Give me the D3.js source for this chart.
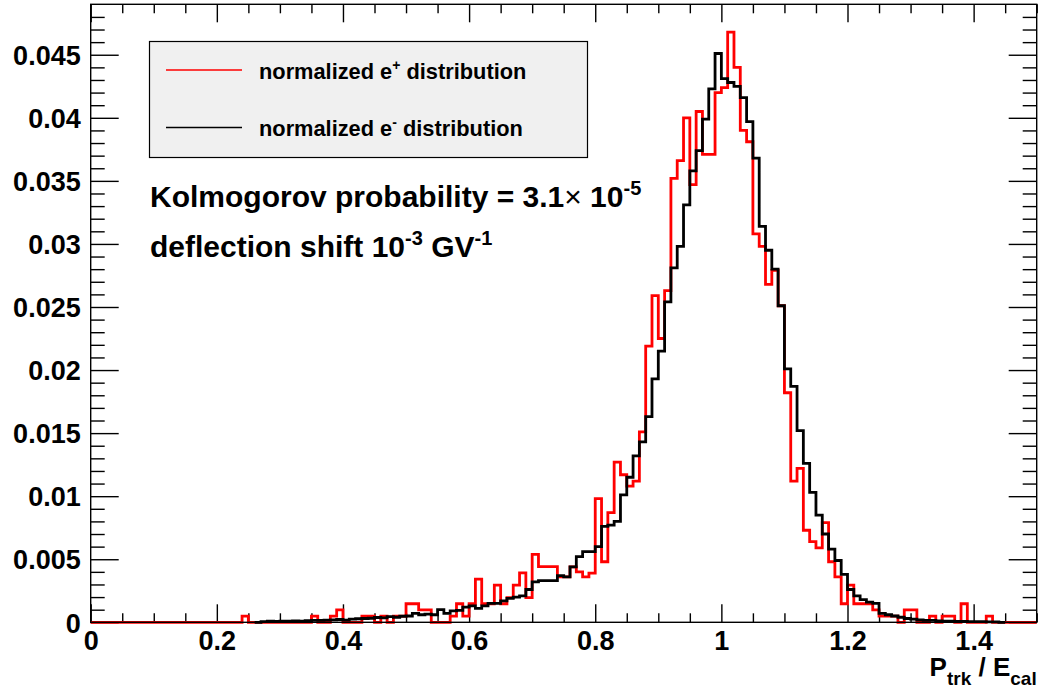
<!DOCTYPE html>
<html>

<head>
  <meta charset="utf-8">
  <script src="https://d3js.org/d3.v7.min.js"></script>
  <style>
    body { margin: 0; background: #fff; }
    svg text { font-family: "Liberation Sans", Arial, Helvetica, sans-serif; font-weight: bold; fill: #000; }
  </style>
</head>

<body>
  <div id="my_dataviz"></div>
  <script>
    // binning of P_trk / E_cal
    var binStart = 0, binWidth = 0.01;

    // normalized e+ distribution (150 bins)
    var positron = [
      0, 0, 0, 0, 0, 0, 0, 0, 0, 0,
      0, 0, 0, 0, 0, 0, 0, 0, 0, 0,
      0, 0, 0, 0, 0.00049, 0, 0, 0, 0, 0,
      0, 0, 0, 0, 0, 0.00049, 0, 0, 0.00049, 0.00098,
      0, 0, 0, 0.00049, 0.00049, 0, 0.00049, 0, 0.00049, 0.00049,
      0.00147, 0.00147, 0.00098, 0.00098, 0, 0, 0, 0.00049, 0.00147, 0.00049,
      0.00147, 0.00343, 0.00147, 0.00147, 0.00294, 0.00147, 0.00196, 0.00294, 0.00392, 0.00196,
      0.00539, 0.00441, 0.00441, 0.00441, 0.0036, 0.0036, 0.0044, 0.0040, 0.0036, 0.0039,
      0.0098, 0.0048, 0.0087, 0.0127, 0.0117, 0.0108, 0.0112, 0.0151, 0.0219, 0.0259,
      0.0225, 0.0263, 0.0352, 0.0366, 0.0400, 0.0347, 0.0405, 0.0371, 0.0371, 0.0420,
      0.0424, 0.0468, 0.0440, 0.0390, 0.0381, 0.0308, 0.0298, 0.0268, 0.0279, 0.0251,
      0.0182, 0.0112, 0.0122, 0.0073, 0.0064, 0.0059, 0.0079, 0.0048, 0.0036, 0.00147,
      0.00294, 0.00147, 0.00147, 0.00147, 0.00098, 0.00049, 0.00049, 0.00049, 0, 0.00098,
      0.00098, 0, 0, 0.00049, 0, 0.00049, 0.00049, 0, 0.00147, 0,
      0, 0, 0.00049, 0, 0, 0, 0, 0, 0, 0
    ];

    // normalized e- distribution (150 bins)
    var electron = [
      0, 0, 0, 0, 0, 0, 0, 0, 0, 0,
      0, 0, 0, 0, 0, 0, 0, 0, 0, 0,
      0, 0, 0, 0, 0, 0, 0, 0.00005, 0.0001, 0.00008,
      0.0001, 0.0001, 0.00012, 0.0001, 0.00014, 0.00015, 0.00016, 0.00018, 0.0002, 0.00022,
      0.00018, 0.00025, 0.00028, 0.0003, 0.00032, 0.00038, 0.00035, 0.00045, 0.0004, 0.00048,
      0.0005, 0.0007, 0.0006, 0.00065, 0.0006, 0.0010, 0.0007, 0.0009, 0.00095, 0.0012,
      0.0013, 0.0011, 0.0013, 0.0015, 0.0015, 0.0017, 0.0019, 0.0020, 0.0021, 0.0026,
      0.0032, 0.0033, 0.0033, 0.0033, 0.0037, 0.0036, 0.0044, 0.0052, 0.0056, 0.0056,
      0.0060, 0.0076, 0.0077, 0.0080, 0.0101, 0.0115, 0.0132, 0.0143, 0.0163, 0.0193,
      0.0215, 0.0254, 0.0281, 0.0298, 0.0331, 0.0358, 0.0374, 0.0399, 0.0423, 0.0451,
      0.0431, 0.0428, 0.0425, 0.0416, 0.0397, 0.0368, 0.0314, 0.0295, 0.0280, 0.0251,
      0.0201, 0.0187, 0.0152, 0.0126, 0.0103, 0.0085, 0.0070, 0.0058, 0.0049, 0.0038,
      0.0026, 0.0021, 0.0018, 0.0016, 0.0015, 0.0007, 0.0006, 0.0005, 0.0004, 0.0003,
      0.00025, 0.0002, 0.00015, 0.00015, 0.00012, 0.0001, 0.0001, 0.00008, 0.00008, 0.00006,
      0.00005, 0.00005, 0.00004, 0.00003, 0, 0, 0, 0, 0, 0
    ];

    var xTickLabels = ["0", "0.2", "0.4", "0.6", "0.8", "1", "1.2", "1.4"];
    var yTickLabels = ["0", "0.005", "0.01", "0.015", "0.02", "0.025", "0.03", "0.035", "0.04", "0.045"];
    var xRange = [0, 1.5];
    var yMax = 0.049;

    var margin = { top: 4.3, right: 4.3, bottom: 67.7, left: 90.7 },
      width = 1041 - margin.left - margin.right,
      height = 690 - margin.top - margin.bottom;

    var root = d3.select("#my_dataviz")
      .append("svg")
      .attr("width", 1041)
      .attr("height", 690);

    var svg = root.append("g")
      .attr("transform", "translate(" + margin.left + "," + margin.top + ")");

    var x = d3.scaleLinear().domain(xRange).range([0, width]);
    var y = d3.scaleLinear().domain([0, yMax]).range([height, 0]);

    var xMajor = xTickLabels.map(Number);
    var xMinor = d3.range(0, 31).map(function (i) { return +(i * 0.05).toFixed(2); })
      .filter(function (v) { return xMajor.indexOf(v) < 0; });
    var yMajor = yTickLabels.map(Number);
    var yMinor = d3.range(0, 49).map(function (i) { return +(i * 0.001).toFixed(3); })
      .filter(function (v) { return v <= yMax && yMajor.indexOf(v) < 0; });

    function clean(g) {
      g.select(".domain").remove();
      g.attr("font-size", null).attr("font-family", null);
      g.selectAll(".tick line").attr("stroke", "#000").attr("stroke-width", 1.4);
    }

    // bottom axis
    svg.append("g")
      .attr("transform", "translate(0," + height + ")")
      .call(d3.axisBottom(x).tickValues(xMinor).tickSize(-9).tickFormat(""))
      .call(clean);
    svg.append("g")
      .attr("transform", "translate(0," + height + ")")
      .call(d3.axisBottom(x).tickValues(xMajor).tickSize(-18)
        .tickFormat(function (d, i) { return xTickLabels[i]; }))
      .call(clean)
      .selectAll("text")
      .attr("y", 27.5).attr("dy", null)
      .style("font-size", "27px");

    // top axis
    svg.append("g")
      .call(d3.axisTop(x).tickValues(xMinor).tickSize(-9).tickFormat(""))
      .call(clean);
    svg.append("g")
      .call(d3.axisTop(x).tickValues(xMajor).tickSize(-18).tickFormat(""))
      .call(clean);

    // left axis
    svg.append("g")
      .call(d3.axisLeft(y).tickValues(yMinor).tickSize(-14).tickFormat(""))
      .call(clean);
    svg.append("g")
      .call(d3.axisLeft(y).tickValues(yMajor).tickSize(-28).tickPadding(10)
        .tickFormat(function (d, i) { return yTickLabels[i]; }))
      .call(clean)
      .selectAll("text")
      .attr("dy", "0.36em")
      .style("font-size", "27px");

    // right axis
    svg.append("g")
      .attr("transform", "translate(" + width + ",0)")
      .call(d3.axisRight(y).tickValues(yMinor).tickSize(-14).tickFormat(""))
      .call(clean);
    svg.append("g")
      .attr("transform", "translate(" + width + ",0)")
      .call(d3.axisRight(y).tickValues(yMajor).tickSize(-28).tickFormat(""))
      .call(clean);

    // histograms as step lines
    function stepPoints(values, trim) {
      var first = 0, last = values.length - 1;
      if (trim) {
        while (first < last && values[first + 1] === 0) first++;
        while (last > first && values[last - 1] === 0) last--;
      }
      var pts = [];
      for (var i = first; i <= last; i++) pts.push([binStart + i * binWidth, values[i]]);
      pts.push([binStart + (last + 1) * binWidth, values[last]]);
      return pts;
    }

    var line = d3.line()
      .x(function (d) { return x(d[0]); })
      .y(function (d) { return y(d[1]); })
      .curve(d3.curveStepAfter);

    svg.append("path")
      .datum(stepPoints(positron, false))
      .attr("d", line)
      .attr("fill", "none")
      .attr("stroke", "#ff0000")
      .attr("stroke-width", 2.8);

    svg.append("path")
      .datum(stepPoints(electron, true))
      .attr("d", line)
      .attr("fill", "none")
      .attr("stroke", "#000")
      .attr("stroke-width", 2.8);

    // frame
    svg.append("rect")
      .attr("width", width).attr("height", height)
      .attr("fill", "none")
      .attr("stroke", "#000")
      .attr("stroke-width", 1.4);

    // legend
    var legend = root.append("g");
    legend.append("rect")
      .attr("x", 149.5).attr("y", 41.5)
      .attr("width", 438).attr("height", 116)
      .attr("fill", "#f0f0f0")
      .attr("stroke", "#000")
      .attr("stroke-width", 1.2);

    var entries = [
      { color: "#ff0000", sign: "+", ly: 70 },
      { color: "#000", sign: "-", ly: 127.5 }
    ];
    entries.forEach(function (e) {
      legend.append("line")
        .attr("x1", 166).attr("x2", 242)
        .attr("y1", e.ly).attr("y2", e.ly)
        .attr("stroke", e.color)
        .attr("stroke-width", 1.3);
      var t = legend.append("text")
        .attr("x", 259).attr("y", e.ly + 8.5)
        .style("font-size", "21.8px");
      t.append("tspan").text("normalized e");
      t.append("tspan").attr("dy", -9).style("font-size", "14px").text(e.sign);
      t.append("tspan").attr("dy", 9).text(" distribution");
    });

    // annotations
    var k = root.append("text")
      .attr("x", 150).attr("y", 207)
      .style("font-size", "30px");
    k.append("tspan").text("Kolmogorov probability = 3.1");
    k.append("tspan").style("font-weight", "normal").text("\u00d7");
    k.append("tspan").text(" 10");
    k.append("tspan").attr("dy", -12).style("font-size", "20px").text("-5");

    var d = root.append("text")
      .attr("x", 150).attr("y", 257)
      .style("font-size", "30px");
    d.append("tspan").text("deflection shift 10");
    d.append("tspan").attr("dy", -12).style("font-size", "20px").text("-3");
    d.append("tspan").attr("dy", 12).text(" GV");
    d.append("tspan").attr("dy", -12).style("font-size", "20px").text("-1");

    // x axis title
    var xt = root.append("text")
      .attr("x", 1036.7).attr("y", 676)
      .attr("text-anchor", "end")
      .style("font-size", "26px");
    xt.append("tspan").text("P");
    xt.append("tspan").attr("dy", 9).style("font-size", "19px").text("trk");
    xt.append("tspan").attr("dy", -9).text(" / E");
    xt.append("tspan").attr("dy", 9).style("font-size", "19px").text("cal");
  </script>
</body>

</html>
